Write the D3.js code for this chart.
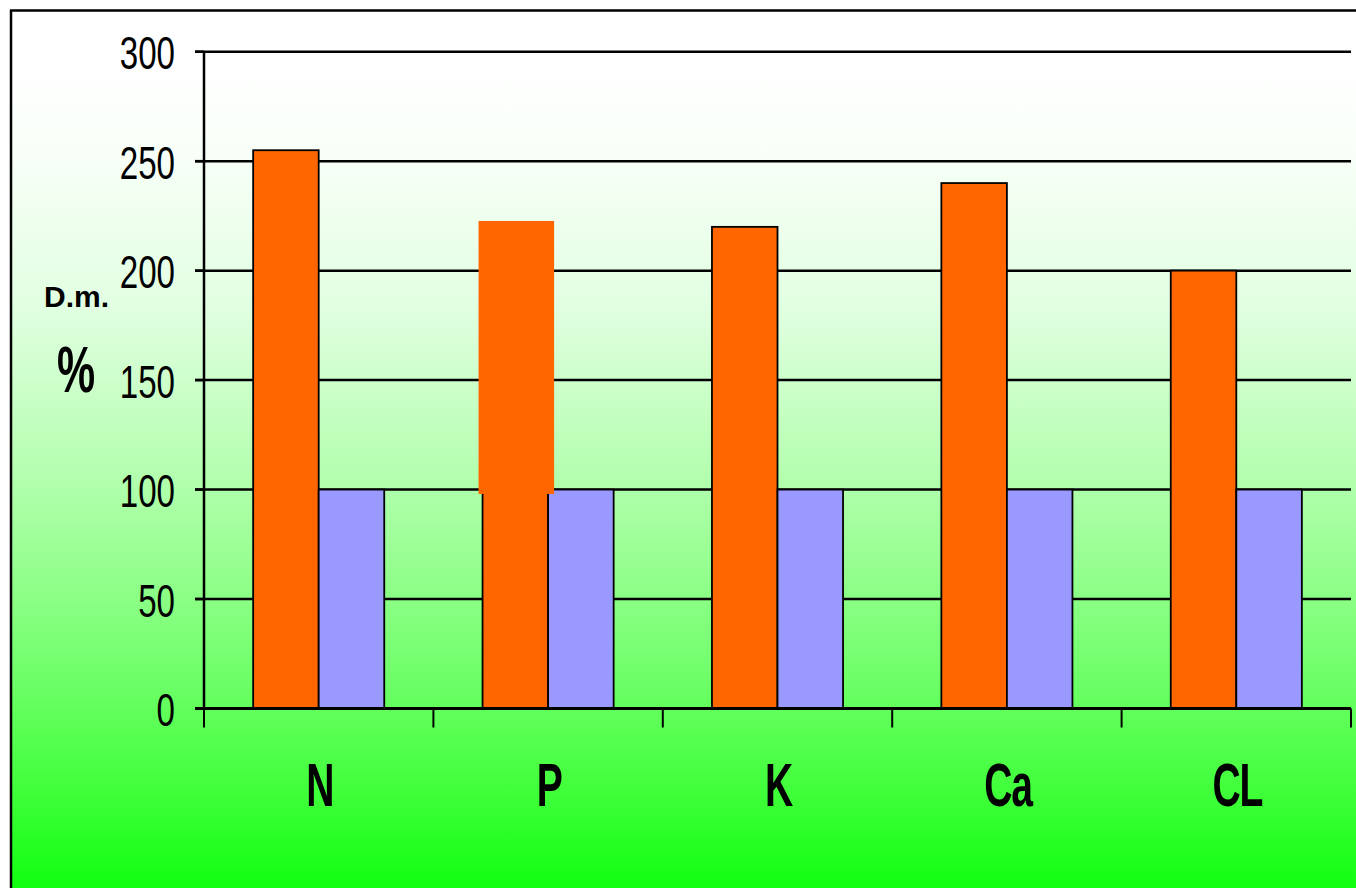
<!DOCTYPE html>
<html>
<head>
<meta charset="utf-8">
<script src="https://cdn.jsdelivr.net/npm/d3@7"></script>
<style>
  html, body { margin: 0; padding: 0; background: #ffffff; }
  svg { display: block; }
</style>
</head>
<body>
<svg id="chart" width="1356" height="888"></svg>
<script>
// ---- data ----
const categories = ["N", "P", "K", "Ca", "CL"];
const seriesNames = ["treated", "control"];
const treatedValues = [255, 222, 220, 240, 200];
const controlValues = [100, 100, 100, 100, 100];
const yTicks = [0, 50, 100, 150, 200, 250, 300];
const yLabelTop = "D.m.";
const yLabelUnit = "%";
// the P column shows an extra flat orange block (no outline) over its upper part
const overlayCategory = "P";
const overlayFrom = 98;
const overlayTo = 222;

// ---- layout ----
const W = 1356, H = 888;
const plotLeft = 204, plotRight = 1351, plotTop = 51.7, plotBottom = 708.5;
const colors = { treated: "#ff6600", control: "#9999ff" };

const svg = d3.select("#chart");

// background gradient
const defs = svg.append("defs");
const grad = defs.append("linearGradient")
  .attr("id", "bg").attr("x1", 0).attr("y1", 0).attr("x2", 0).attr("y2", 1);
[[0, "#ffffff"], [0.06, "#ffffff"], [0.16, "#f8fff8"], [0.33, "#e2ffe2"],
 [0.5, "#baffb6"], [0.62, "#98ff92"], [0.76, "#6cff66"], [0.88, "#40ff3a"], [1, "#0cff0c"]]
  .forEach(([o, c]) => grad.append("stop").attr("offset", o).attr("stop-color", c));

svg.append("rect").attr("x", 11).attr("y", 10).attr("width", W).attr("height", H)
  .attr("fill", "url(#bg)");
// frame: top and left edges
svg.append("line").attr("x1", 10).attr("x2", W).attr("y1", 10.5).attr("y2", 10.5)
  .attr("stroke", "#000").attr("stroke-width", 2.5);
svg.append("line").attr("x1", 11).attr("x2", 11).attr("y1", 10).attr("y2", H)
  .attr("stroke", "#000").attr("stroke-width", 2.5);

// scales
const x0 = d3.scaleBand().domain(categories).range([plotLeft, plotRight]).padding(0);
const x1 = d3.scaleBand().domain(seriesNames).range([0, x0.bandwidth()])
  .paddingInner(0).paddingOuter(0.75);
const y = d3.scaleLinear().domain([0, 300]).range([plotBottom, plotTop]);

// gridlines
svg.append("g").selectAll("line").data(yTicks.filter(t => t > 0)).join("line")
  .attr("x1", plotLeft - 9).attr("x2", plotRight)
  .attr("y1", d => y(d)).attr("y2", d => y(d))
  .attr("stroke", "#000").attr("stroke-width", 2.5);

// bars
const rows = categories.map((c, i) => ({ cat: c, treated: treatedValues[i], control: controlValues[i] }));
const groups = svg.append("g").selectAll("g").data(rows).join("g")
  .attr("transform", d => `translate(${x0(d.cat)},0)`);
groups.selectAll("rect").data(d => seriesNames.map(s => ({ s, v: d[s] }))).join("rect")
  .attr("x", d => x1(d.s))
  .attr("y", d => y(d.v))
  .attr("width", x1.bandwidth())
  .attr("height", d => y(0) - y(d.v))
  .attr("fill", d => colors[d.s])
  .attr("stroke", "#000").attr("stroke-width", 1.8);

// overlay block on P
svg.append("rect")
  .attr("x", x0(overlayCategory) + x1("treated") - 4)
  .attr("y", y(overlayTo) - 1.5)
  .attr("width", x1.bandwidth() + 10)
  .attr("height", y(overlayFrom) - y(overlayTo) + 1.5)
  .attr("fill", colors.treated);

// y axis line
svg.append("line").attr("x1", plotLeft).attr("x2", plotLeft)
  .attr("y1", y(300)).attr("y2", y(0))
  .attr("stroke", "#000").attr("stroke-width", 2.5);
// y ticks
svg.append("g").selectAll("line").data(yTicks).join("line")
  .attr("x1", plotLeft - 9).attr("x2", plotLeft)
  .attr("y1", d => y(d)).attr("y2", d => y(d))
  .attr("stroke", "#000").attr("stroke-width", 2.5);
// y tick labels
svg.append("g").selectAll("text").data(yTicks).join("text")
  .attr("transform", d => `translate(175,${y(d) + 17.5}) scale(0.72,1)`)
  .attr("text-anchor", "end")
  .attr("font-family", "'Liberation Sans', Arial, sans-serif")
  .attr("font-size", 46)
  .attr("fill", "#000")
  .text(d => d);

// x axis
svg.append("line").attr("x1", plotLeft - 9).attr("x2", plotRight)
  .attr("y1", y(0)).attr("y2", y(0))
  .attr("stroke", "#000").attr("stroke-width", 3);
const boundaries = categories.map(c => x0(c)).concat([x0(categories[categories.length - 1]) + x0.bandwidth()]);
svg.append("g").selectAll("line").data(boundaries).join("line")
  .attr("x1", d => d).attr("x2", d => d)
  .attr("y1", y(0)).attr("y2", y(0) + 19)
  .attr("stroke", "#000").attr("stroke-width", 2);
svg.append("g").selectAll("text").data(categories).join("text")
  .attr("transform", d => `translate(${x0(d) + x0.bandwidth() / 2 + 1},806) scale(0.63,1)`)
  .attr("text-anchor", "middle")
  .attr("font-family", "'Liberation Sans', Arial, sans-serif")
  .attr("font-weight", "bold")
  .attr("font-size", 62)
  .attr("letter-spacing", -2)
  .attr("fill", "#000")
  .text(d => d);

// y axis labels
svg.append("text").attr("x", 44).attr("y", 307)
  .attr("font-family", "'Liberation Sans', Arial, sans-serif")
  .attr("font-weight", "bold").attr("font-size", 30).attr("fill", "#000")
  .text(yLabelTop);
svg.append("text").attr("transform", "translate(76,392) scale(0.67,1)")
  .attr("text-anchor", "middle")
  .attr("font-family", "'Liberation Sans', Arial, sans-serif")
  .attr("font-weight", "bold").attr("font-size", 64).attr("fill", "#000")
  .text(yLabelUnit);
</script>
</body>
</html>
